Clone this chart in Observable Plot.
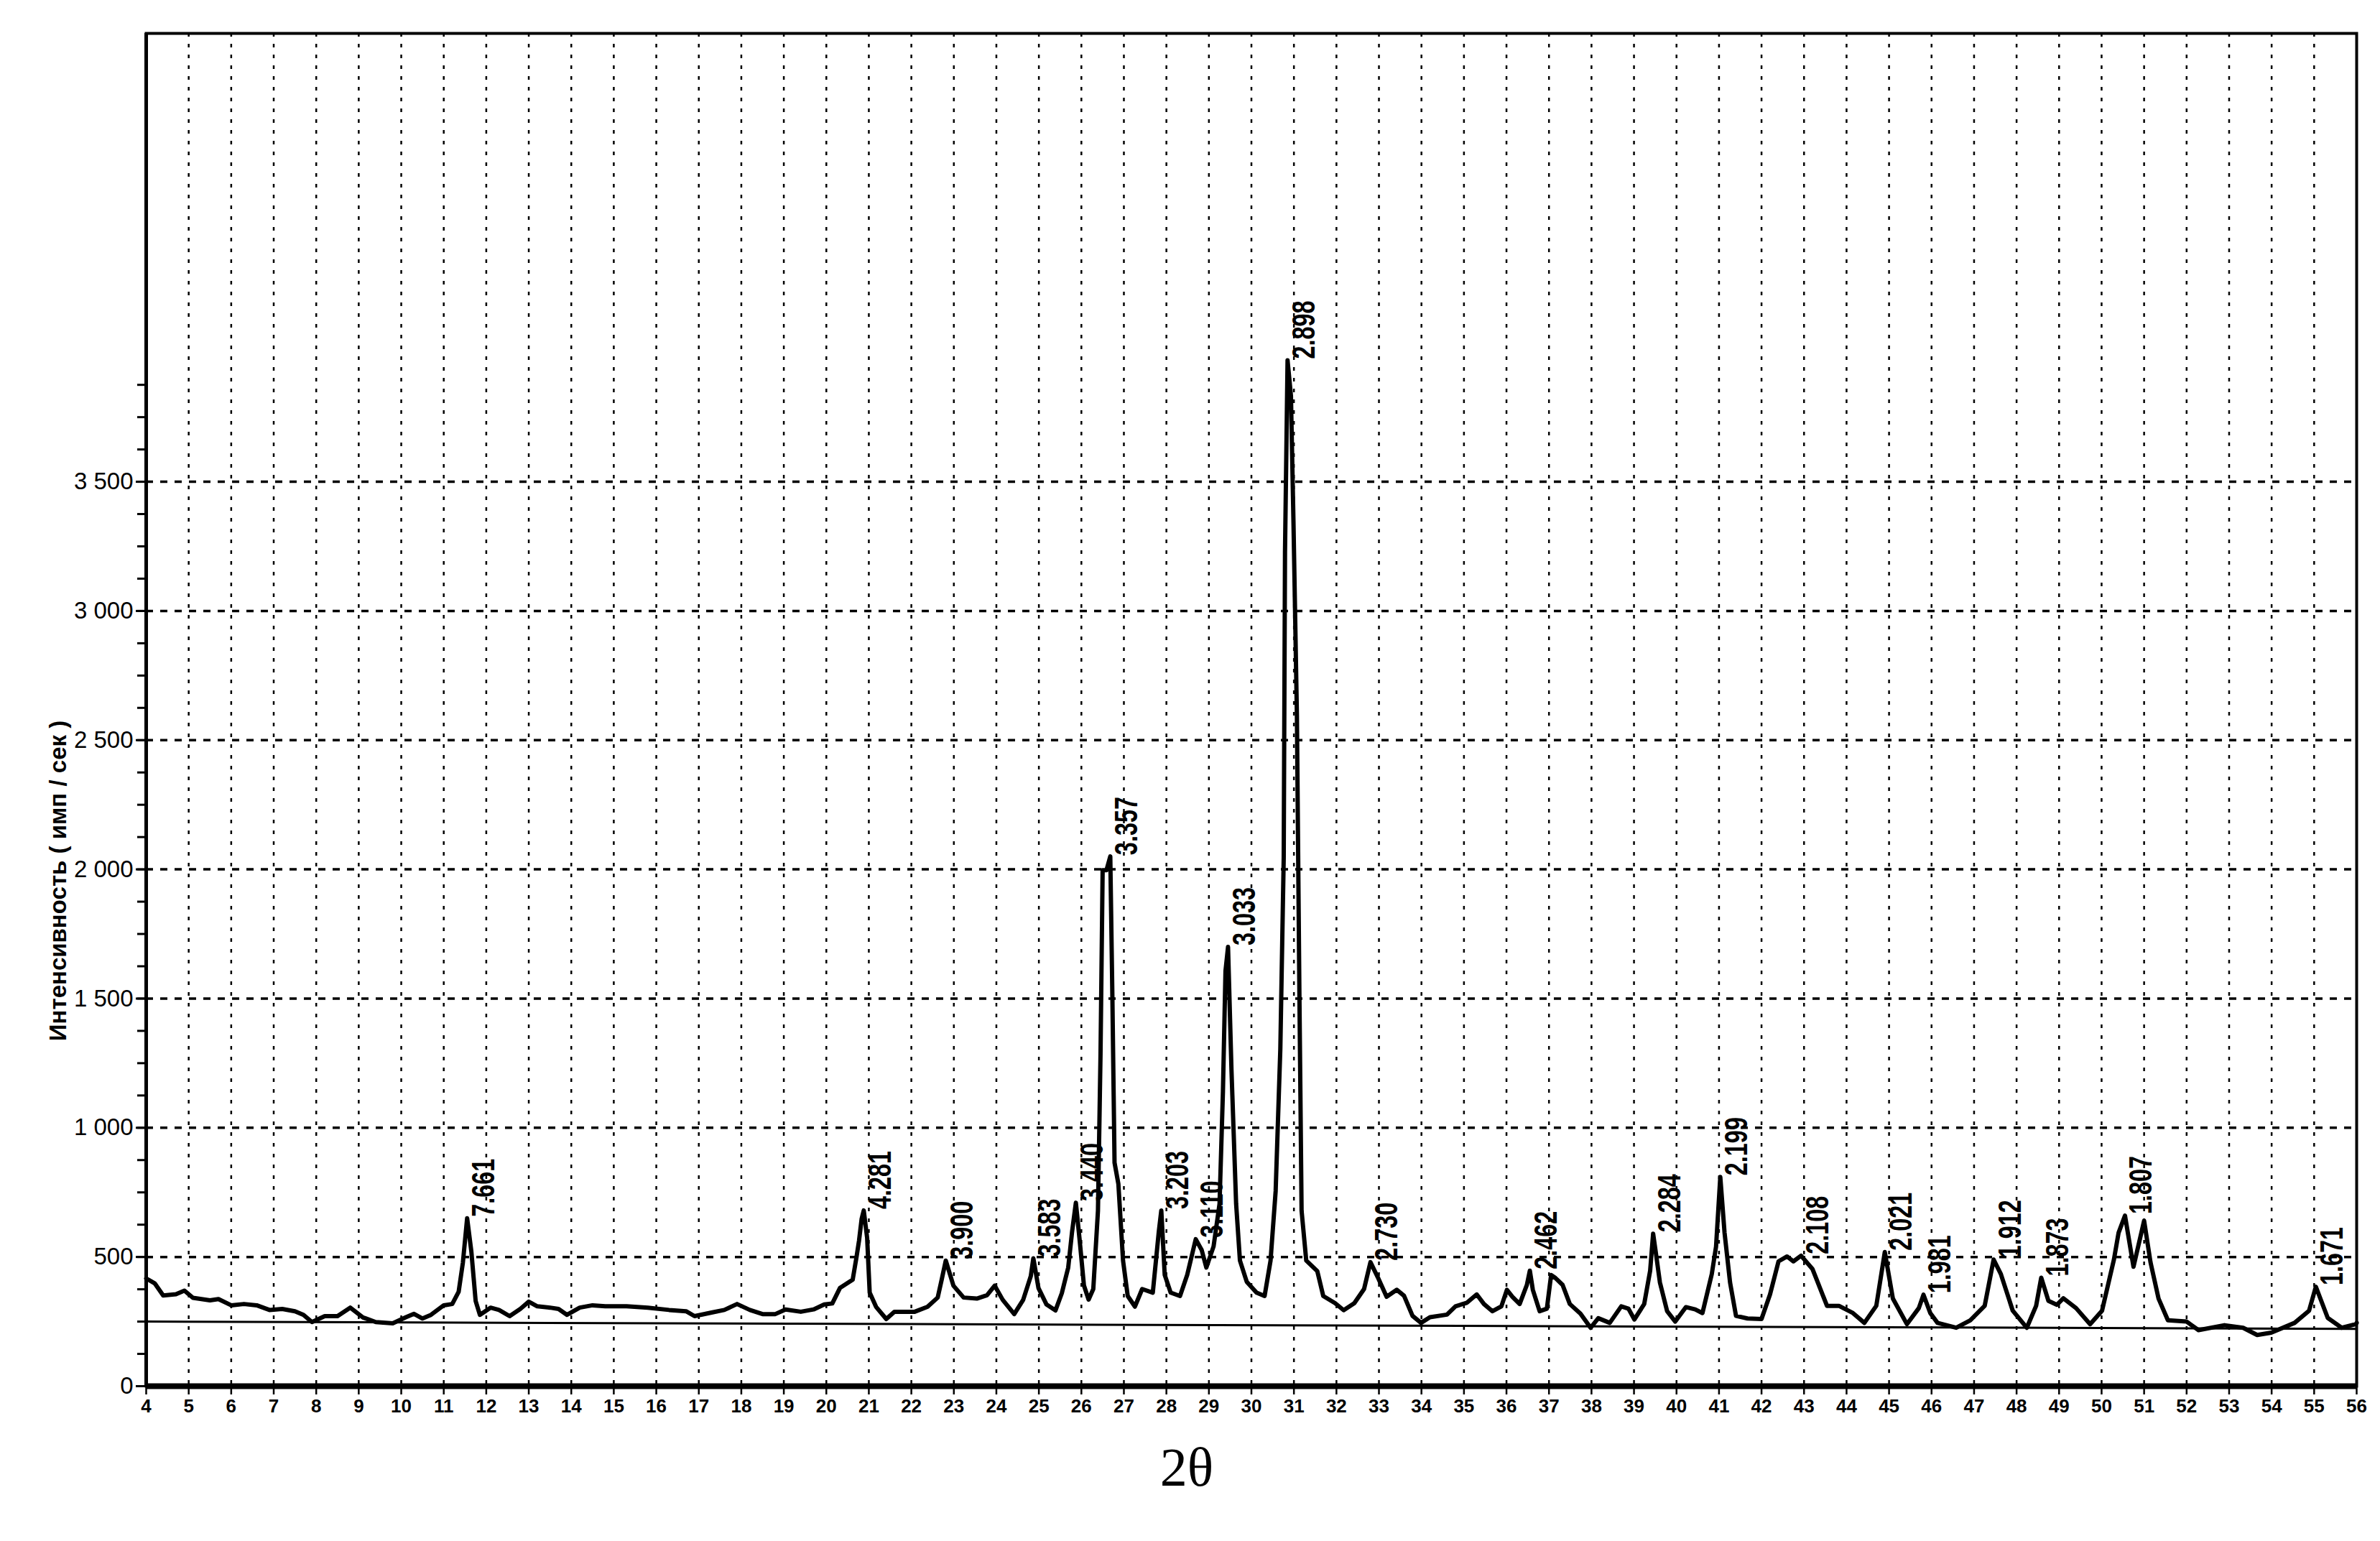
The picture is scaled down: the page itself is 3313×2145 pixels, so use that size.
<!DOCTYPE html>
<html>
<head>
<meta charset="utf-8">
<script src="https://cdn.jsdelivr.net/npm/d3@7"></script>
<script src="https://cdn.jsdelivr.net/npm/@observablehq/plot@0.6"></script>
<style>
  html, body { margin: 0; padding: 0; background: #fff; }
  #chart svg { display: block; }
</style>
</head>
<body>
<div id="chart"></div>
<script>
// ---- Data ----
const twoTheta = [
  4.0, 4.2, 4.4, 4.7, 4.9, 5.1, 5.5, 5.7, 6.0, 6.3, 6.6, 6.9, 7.2, 7.5, 7.7, 7.9,
  8.2, 8.5, 8.8, 9.1, 9.4, 9.8, 10.1, 10.3, 10.5, 10.7, 11.0, 11.2, 11.35, 11.45,
  11.55, 11.65, 11.75, 11.85, 12.1, 12.3, 12.55, 12.8, 13.0, 13.2, 13.5, 13.7,
  13.9, 14.2, 14.5, 14.8, 15.3, 15.8, 16.3, 16.7, 16.9, 17.3, 17.6, 17.9, 18.2,
  18.5, 18.8, 19.04, 19.4, 19.7, 19.95, 20.14, 20.32, 20.62, 20.71, 20.77, 20.83,
  20.88, 20.96, 21.02, 21.17, 21.41, 21.6, 22.08, 22.38, 22.62, 22.72, 22.81,
  22.99, 23.23, 23.54, 23.78, 23.96, 24.15, 24.42, 24.63, 24.81, 24.87, 24.99,
  25.18, 25.39, 25.54, 25.69, 25.78, 25.87, 25.96, 26.06, 26.17, 26.28, 26.39,
  26.45, 26.5, 26.59, 26.68, 26.73, 26.78, 26.87, 26.98, 27.09, 27.26, 27.43,
  27.68, 27.82, 27.88, 27.96, 28.1, 28.32, 28.49, 28.69, 28.83, 28.94, 29.11,
  29.25, 29.33, 29.39, 29.45, 29.53, 29.64, 29.73, 29.89, 30.12, 30.31, 30.45,
  30.57, 30.68, 30.76, 30.79, 30.85, 30.93, 30.99, 31.07, 31.13, 31.18, 31.29,
  31.55, 31.69, 31.97, 32.17, 32.42, 32.65, 32.8, 32.98, 33.18, 33.42, 33.59,
  33.79, 33.99, 34.2, 34.6, 34.8, 35.07, 35.3, 35.47, 35.67, 35.88, 36.01, 36.14,
  36.31, 36.48, 36.55, 36.62, 36.78, 36.95, 37.05, 37.15, 37.32, 37.49, 37.74,
  37.98, 38.16, 38.43, 38.7, 38.87, 39.01, 39.24, 39.38, 39.45, 39.52, 39.61,
  39.78, 39.97, 40.22, 40.44, 40.61, 40.83, 40.93, 41.03, 41.13, 41.26, 41.4,
  41.67, 42.0, 42.2, 42.4, 42.6, 42.75, 42.93, 43.2, 43.54, 43.82, 44.15, 44.42,
  44.7, 44.9, 45.09, 45.42, 45.7, 45.81, 45.97, 46.14, 46.58, 46.91, 47.25,
  47.46, 47.63, 47.91, 48.24, 48.46, 48.58, 48.75, 48.95, 49.1, 49.4, 49.73,
  50.01, 50.29, 50.4, 50.55, 50.75, 51.0, 51.15, 51.34, 51.56, 52.0, 52.28,
  52.89, 53.33, 53.66, 53.99, 54.54, 54.88, 55.04, 55.32, 55.65, 55.98, 56.0
];
const intensity = [
  417, 398, 351, 356, 370, 342, 332, 337, 313, 318, 313, 295, 299, 290, 276, 248,
  271, 271, 304, 266, 248, 243, 266, 280, 262, 276, 313, 318, 365, 478,
  650, 520, 330, 276, 304, 295, 271, 299, 327, 309, 304, 299,
  276, 304, 313, 309, 309, 304, 295, 290, 271, 285, 295, 318, 295,
  279, 279, 297, 288, 297, 316, 320, 380, 412, 500, 564, 647,
  680, 574, 362, 307, 260, 288, 288, 307, 343, 417, 486,
  389, 343, 339, 352, 389, 334, 279, 334, 426, 495, 380,
  316, 293, 360, 459, 596, 710, 564, 390, 335, 376, 679,
  1283, 1997, 1997, 2050, 1497, 865, 783, 486, 349, 308, 376,
  362, 596, 680, 431, 362, 349, 431, 569, 527, 459, 541,
  706, 1140, 1607, 1700, 1228, 706, 486, 404, 362, 349, 486,
  755, 1305, 2047, 3228, 3970, 3832, 3338, 2596, 1497, 679, 486,
  445, 349, 321, 294, 321, 376, 480, 419, 346, 373, 350,
  272, 245, 267, 277, 309, 323, 355, 318, 290, 309, 373, 346,
  318, 392, 447, 373, 290, 300, 430, 419, 392, 318, 281,
  226, 263, 245, 309, 300, 258, 318, 447, 590, 509, 401,
  290, 250, 306, 297, 283, 434, 540, 810, 594, 401, 272,
  262, 260, 355, 483, 502, 483, 505, 453, 311, 311, 283, 245,
  311, 519, 339, 240, 302, 354, 283, 245, 226, 255, 311,
  490, 434, 292, 226, 311, 420, 330, 315, 340, 302, 240,
  292, 490, 594, 660, 462, 640, 480, 339, 255, 250, 217,
  236, 226, 198, 207, 245, 292, 385, 264, 226, 240, 245
];

// background (baseline) line
const bgTheta = [4, 56];
const bgIntensity = [250, 222];

// peak annotations (d-spacing, Å)
const peakTheta = [11.55, 20.88, 22.81, 24.87, 25.87, 26.68, 27.88, 28.69, 29.45, 30.85,
  32.8, 36.55, 39.45, 41.03, 42.93, 44.9, 45.81, 47.46, 48.58, 50.55, 55.04];
const peakIntensity = [650, 680, 486, 495, 710, 2050, 680, 569, 1700, 3970,
  480, 447, 590, 810, 505, 519, 354, 490, 420, 660, 385];
const peakLabel = ["7.661", "4.281", "3.900", "3.583", "3.440", "3.357", "3.203", "3.110", "3.033", "2.898",
  "2.730", "2.462", "2.284", "2.199", "2.108", "2.021", "1.981", "1.912", "1.873", "1.807", "1.671"];

// axes
const xTicks = d3.range(4, 57, 1);
const xGrid = d3.range(5, 56, 1);
const yTicks = [0, 500, 1000, 1500, 2000, 2500, 3000, 3500];
const yGrid = [500, 1000, 1500, 2000, 2500, 3000, 3500];
const yMinor = d3.range(0, 4000, 125);
const yDomain = [0, 5235];
const xDomain = [4, 56];
const yTitle = "Интенсивность ( имп / сек )";
const xTitle = "2θ";

// ---- build tables ----
const curve = twoTheta.map((t, i) => ({t, v: intensity[i]}));
const bg = bgTheta.map((t, i) => ({t, v: bgIntensity[i]}));
const peaks = peakTheta.map((t, i) => ({t, v: peakIntensity[i], label: peakLabel[i]}));

const fmt = d => d >= 1000 ? `${Math.floor(d / 1000)} ${String(d % 1000).padStart(3, "0")}` : `${d}`;

const chart = Plot.plot({
  width: 3313,
  height: 2145,
  marginLeft: 203,
  marginRight: 33,
  marginTop: 46,
  marginBottom: 216,
  style: {fontFamily: "'Liberation Sans', Arial, sans-serif", background: "#fff", color: "#000", overflow: "visible"},
  x: {domain: xDomain},
  y: {domain: yDomain},
  marks: [
    Plot.gridX({ticks: xGrid, stroke: "#000", strokeOpacity: 1, strokeWidth: 2.5, strokeDasharray: "5,10"}),
    Plot.gridY({ticks: yGrid, stroke: "#000", strokeOpacity: 1, strokeWidth: 3.5, strokeDasharray: "10,10"}),
    Plot.frame({stroke: "#000", strokeWidth: 4}),
    Plot.axisX({ticks: xTicks, tickSize: 12, tickPadding: 6, tickFormat: d => `${d}`, fontSize: 26, fontWeight: "bold", strokeWidth: 2.5, label: null}),
    Plot.axisY({ticks: yTicks, tickSize: 14, tickPadding: 4, tickFormat: fmt, fontSize: 33, strokeWidth: 3, label: null}),
    Plot.axisY({ticks: yMinor, tickSize: 12, tickFormat: () => "", strokeWidth: 3, label: null}),
    Plot.ruleY([0], {stroke: "#000", strokeWidth: 8}),
    Plot.ruleX([4], {stroke: "#000", strokeWidth: 5}),
    Plot.line(bg, {x: "t", y: "v", stroke: "#000", strokeWidth: 3}),
    Plot.line(curve, {x: "t", y: "v", stroke: "#000", strokeWidth: 6, strokeLinejoin: "round"}),
    Plot.text(peaks, {x: "t", y: "v", text: "label", rotate: -90, textAnchor: "start", lineAnchor: "middle",
      dx: 23, dy: -2, fontSize: 45, fontWeight: "bold", fill: "#000", className: "peak-labels"}),
    Plot.text([yTitle], {frameAnchor: "left", text: d => d, rotate: -90, textAnchor: "middle", dx: -122, dy: 238,
      fontSize: 33, fontWeight: "bold", fill: "#000", lineAnchor: "middle"}),
    Plot.text([xTitle], {frameAnchor: "bottom", text: d => d, dx: -90, dy: 114,
      fontSize: 76, fontFamily: "'Liberation Serif', 'Times New Roman', serif", fill: "#000", lineAnchor: "middle"})
  ]
});
// condense the peak labels along their reading direction (narrow printed font)
chart.querySelectorAll(".peak-labels text").forEach(el => {
  const tr = el.getAttribute("transform") || "";
  el.setAttribute("transform", tr + " scale(0.72,1)");
});
document.getElementById("chart").appendChild(chart);
</script>
</body>
</html>
